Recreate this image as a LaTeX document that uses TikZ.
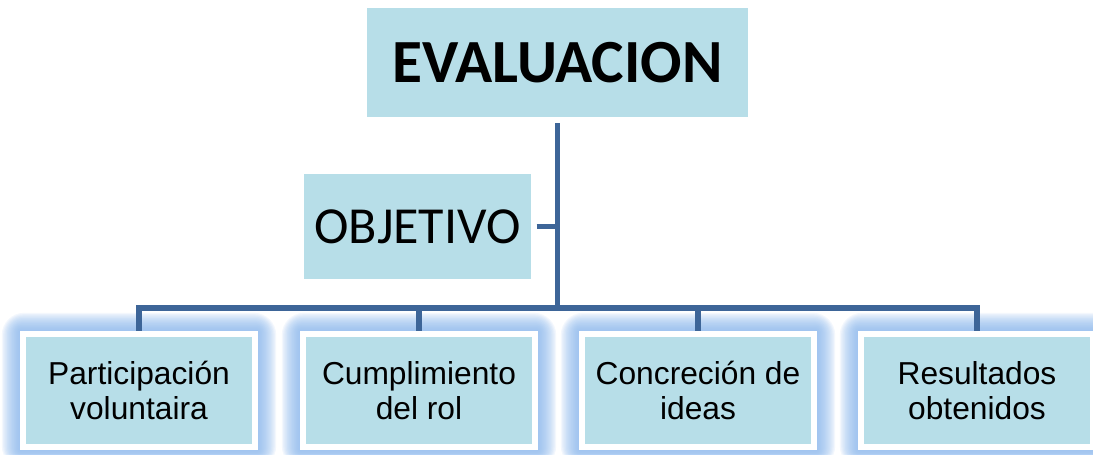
\documentclass[tikz,border=0pt]{standalone}
\usepackage{fontspec}
\setmainfont{Liberation Sans}
\newfontfamily\calfont{Carlito}
\definecolor{boxblue}{RGB}{183,222,232}
\definecolor{lineblue}{RGB}{61,101,152}
\definecolor{glowblue}{RGB}{140,185,240}
\tikzset{
  conn/.style={draw=lineblue, line width=3.9pt},
  topbox/.style={rectangle, fill=boxblue, inner sep=0pt, minimum width=285.75pt, minimum height=81.75pt,
     font=\calfont\bfseries\fontsize{46}{54}\selectfont},
  objbox/.style={rectangle, fill=boxblue, inner sep=0pt, minimum width=170.25pt, minimum height=78.75pt,
     font=\calfont\fontsize{39}{46}\selectfont},
  leafbox/.style={rectangle, fill=boxblue, draw=white, line width=4.5pt, inner sep=0pt,
     minimum width=174pt, minimum height=84.75pt, align=center,
     font=\fontsize{23.8}{26}\selectfont},
}
\newcommand{\glowat}[1]{%
  \foreach \k in {14,13,...,1}{%
    \fill[glowblue, opacity=0.1, rounded corners=\k*1.2pt]
      ($(#1)+(-119-\k*1.3,-59.5-\k*1.3)$) rectangle ($(#1)+(119+\k*1.3,59.5+\k*1.3)$);
  }%
}
\usetikzlibrary{calc}
\begin{document}
\begin{tikzpicture}[x=0.75pt,y=-0.75pt]
\useasboundingbox (0,0) rectangle (1093,454);
\clip (0,0) rectangle (1093,454);
\fill[white] (0,0) rectangle (1093,454);
% glows
\coordinate (g1) at (139,390.5);
\coordinate (g2) at (419,390.5);
\coordinate (g3) at (698,390.5);
\coordinate (g4) at (977,390.5);
\glowat{g1}\glowat{g2}\glowat{g3}\glowat{g4}
% nodes
\node[topbox] (eval) at (557.5,62.5) {EVALUACION};
\node[objbox] (obj) at (417.5,226.5) {OBJETIVO};
\coordinate (junc) at (557.5,308);
% connectors
\draw[conn] ([yshift=-4.5pt]eval.south) -- (junc);
\draw[conn] ([xshift=4pt]obj.east) -- (obj.east -| junc);
\path (g1) ++(0,-59.5) coordinate (t1);
\path (g2) ++(0,-59.5) coordinate (t2);
\path (g3) ++(0,-59.5) coordinate (t3);
\path (g4) ++(0,-59.5) coordinate (t4);
\draw[conn] (t1) -- (t1 |- junc) -- (t4 |- junc) -- (t4);
\draw[conn] (t2) -- (t2 |- junc);
\draw[conn] (t3) -- (t3 |- junc);
% leaf boxes
\node[leafbox] (b1) at (g1) {Participación\\voluntaira};
\node[leafbox] (b2) at (g2) {Cumplimiento\\del rol};
\node[leafbox] (b3) at (g3) {Concreción de\\ideas};
\node[leafbox] (b4) at (g4) {Resultados\\obtenidos};
\end{tikzpicture}
\end{document}
